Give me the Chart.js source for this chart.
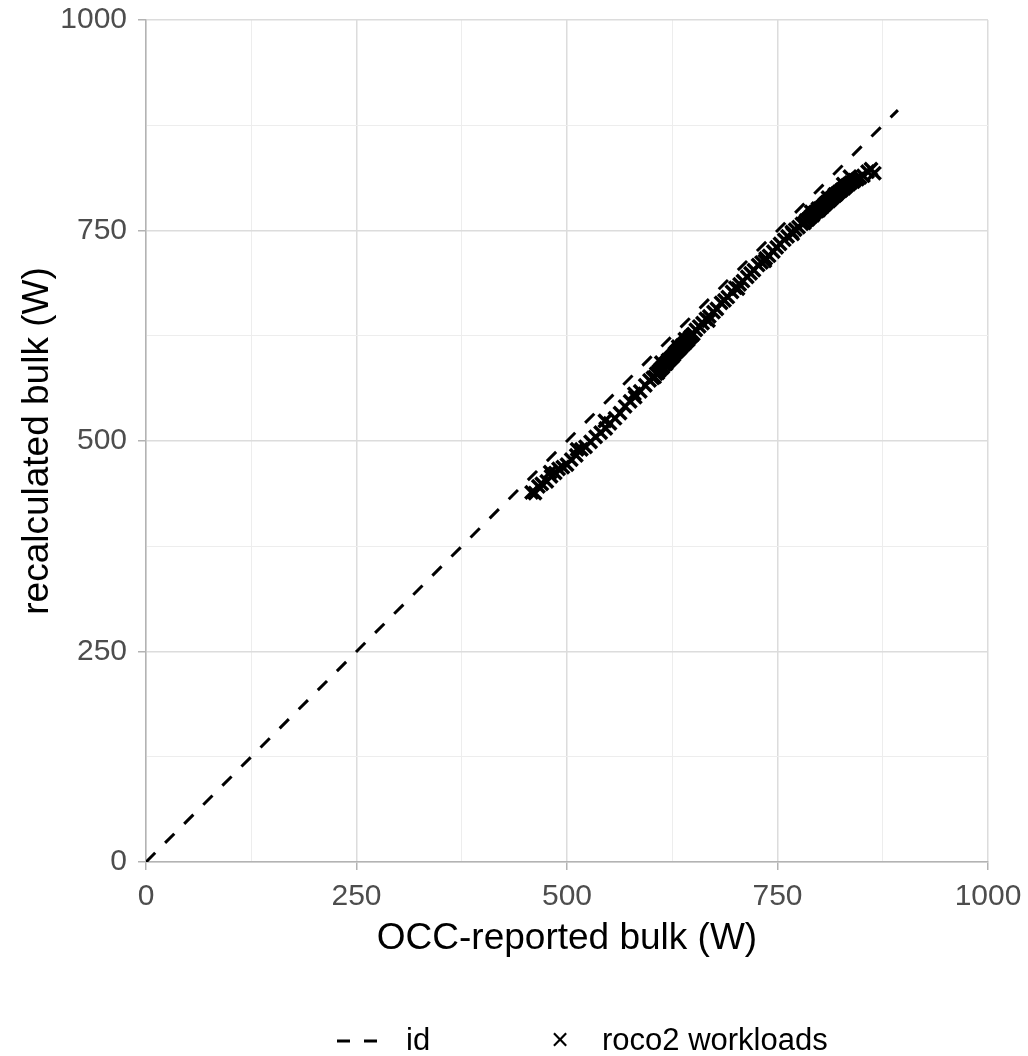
<!DOCTYPE html>
<html>
<head>
<meta charset="utf-8">
<style>
  html, body { margin: 0; padding: 0; background: #fff; }
  #wrap { width: 1028px; height: 1056px; }
</style>
<script src="https://cdn.jsdelivr.net/npm/chart.js@4.4.1/dist/chart.umd.min.js"></script>
</head>
<body>
<div id="wrap"><canvas id="myChart" width="1028" height="1056"></canvas></div>
<script>
'use strict';

// Data
const occBulk = [
  458, 462, 466, 470, 476, 481, 486, 490, 495, 500, 505, 511, 517, 522, 528, 534, 540, 546, 551, 557, 563, 569, 575, 581, 587, 593, 598,
  602, 604, 606, 608, 609, 611, 613, 614, 616, 618, 619, 621, 622, 624, 625, 627, 628, 630, 631, 633, 634, 636, 637, 639, 641, 642, 644, 646, 648, 650,
  653, 657, 661, 665, 669, 674, 678, 683, 687, 691, 696, 700, 705, 709, 714, 718, 722, 727, 731, 736, 740, 745, 749, 753, 758, 762, 767, 771, 775, 779,
  782, 784, 786, 788, 790, 792, 793, 795, 797, 799, 800, 802, 804, 806, 807, 809, 811, 813, 814, 816, 818, 820, 821, 823, 825, 827, 829, 831, 833, 835, 837, 840, 842, 845, 848,
  852, 857, 861, 865,
  // second pass, slightly off the main band
  480, 512, 545, 580, 612, 620, 632, 640, 668, 703, 735, 768, 790, 798, 810, 818, 828, 836
];
const recalcBulk = [
  439, 438, 446, 449, 452, 458, 462, 467, 469, 472, 478, 483, 490, 493, 499, 505, 510, 515, 521, 527, 533, 541, 547, 552, 559, 566, 572,
  575, 576, 580, 581, 583, 585, 587, 588, 591, 592, 594, 596, 597, 599, 600, 602, 604, 606, 607, 609, 610, 612, 614, 615, 617, 619, 620, 623, 625, 627,
  632, 636, 640, 645, 648, 653, 657, 664, 667, 671, 677, 682, 686, 690, 695, 699, 703, 709, 712, 717, 720, 725, 730, 734, 739, 743, 748, 751, 754, 758,
  759, 762, 763, 765, 767, 768, 770, 772, 773, 774, 776, 777, 779, 781, 782, 784, 785, 787, 788, 790, 791, 793, 794, 796, 797, 799, 800, 802, 804, 805, 807, 808, 810, 811, 813,
  815, 820, 823, 818,
  463, 490, 524, 556, 593, 596, 612, 621, 643, 681, 714, 746, 772, 776, 789, 793, 805, 814
];
const idLineX = [0, 893];
const axisTicks = [0, 250, 500, 750, 1000];
const gridSteps = [0, 125, 250, 375, 500, 625, 750, 875, 1000];
const legendLabels = ['id', 'roco2 workloads'];

// Colours
const majorGrid = '#dcdcdc';
const minorGrid = '#ededed';
const axisGray = '#b3b3b3';
const tickText = '#4d4d4d';
const fontFam = '"Liberation Sans", Arial, Helvetica, sans-serif';

const workloadPoints = [];
for(let i = 0; i < occBulk.length; i++){
  workloadPoints.push({x: occBulk[i], y: recalcBulk[i]});
}
const idPoints = idLineX.map(v => ({x: v, y: v}));

function isMajor(v){
  return axisTicks.includes(v);
}

function gridOpts(){
  return {
    color: c => (c.tick && isMajor(c.tick.value)) ? majorGrid : minorGrid,
    lineWidth: c => (c.tick && isMajor(c.tick.value)) ? 1.5 : 1,
    tickColor: c => (c.tick && isMajor(c.tick.value)) ? axisGray : 'rgba(0,0,0,0)',
    tickLength: 8,
    tickWidth: 1.5
  };
}

// legend drawn below the axis title
const bottomLegend = {
  id: 'bottomLegend',
  afterDraw(chart){
    const c = chart.ctx;
    const y = 1041;
    c.save();
    c.strokeStyle = '#000';
    c.lineWidth = 3;
    c.setLineDash([13, 14]);
    c.beginPath();
    c.moveTo(337, y);
    c.lineTo(379, y);
    c.stroke();
    c.setLineDash([]);
    c.fillStyle = '#000';
    c.font = '31px ' + fontFam;
    c.textBaseline = 'middle';
    c.textAlign = 'left';
    c.fillText(legendLabels[0], 406, y);
    c.textAlign = 'center';
    c.fillText('\u00d7', 560, y);
    c.textAlign = 'left';
    c.fillText(legendLabels[1], 602, y);
    c.restore();
  }
};

const ctx = document.getElementById('myChart');

new Chart(ctx, {
  type: 'scatter',
  data: {
    datasets: [
      {
        label: legendLabels[1],
        data: workloadPoints,
        pointStyle: 'crossRot',
        pointRadius: 9,
        pointBorderWidth: 3.5,
        borderColor: '#000',
        backgroundColor: '#000',
        order: 1
      },
      {
        type: 'line',
        label: legendLabels[0],
        data: idPoints,
        borderColor: '#000',
        borderWidth: 3,
        borderDash: [13, 14],
        pointRadius: 0,
        fill: false,
        order: 2
      }
    ]
  },
  options: {
    responsive: false,
    animation: false,
    devicePixelRatio: 1,
    layout: {padding: {left: 0, top: 20, right: 40, bottom: 74}},
    plugins: {
      legend: {display: false},
      tooltip: {enabled: false}
    },
    scales: {
      x: {
        type: 'linear',
        min: 0,
        max: 1000,
        afterFit: s => { s.height = 120; s.paddingLeft = 0; s.paddingRight = 0; },
        afterBuildTicks: s => { s.ticks = gridSteps.map(v => ({value: v})); },
        ticks: {
          color: tickText,
          font: {family: fontFam, size: 30},
          padding: 9,
          maxRotation: 0,
          autoSkip: false,
          callback: v => isMajor(v) ? String(v) : ''
        },
        grid: gridOpts(),
        border: {display: true, color: axisGray, width: 1.5},
        title: {
          display: true,
          text: 'OCC-reported bulk (W)',
          color: '#000',
          font: {family: fontFam, size: 37},
          padding: {top: 0, bottom: 21}
        }
      },
      y: {
        type: 'linear',
        min: 0,
        max: 1000,
        afterFit: s => { s.width = 146; s.paddingTop = 0; s.paddingBottom = 0; },
        afterBuildTicks: s => { s.ticks = gridSteps.map(v => ({value: v})); },
        ticks: {
          color: tickText,
          font: {family: fontFam, size: 30},
          padding: 11,
          autoSkip: false,
          callback: v => isMajor(v) ? String(v) : ''
        },
        grid: gridOpts(),
        border: {display: true, color: axisGray, width: 1.5},
        title: {
          display: true,
          text: 'recalculated bulk (W)',
          color: '#000',
          font: {family: fontFam, size: 37},
          padding: {top: 16, bottom: 0}
        }
      }
    }
  },
  plugins: [bottomLegend]
});
</script>
</body>
</html>
